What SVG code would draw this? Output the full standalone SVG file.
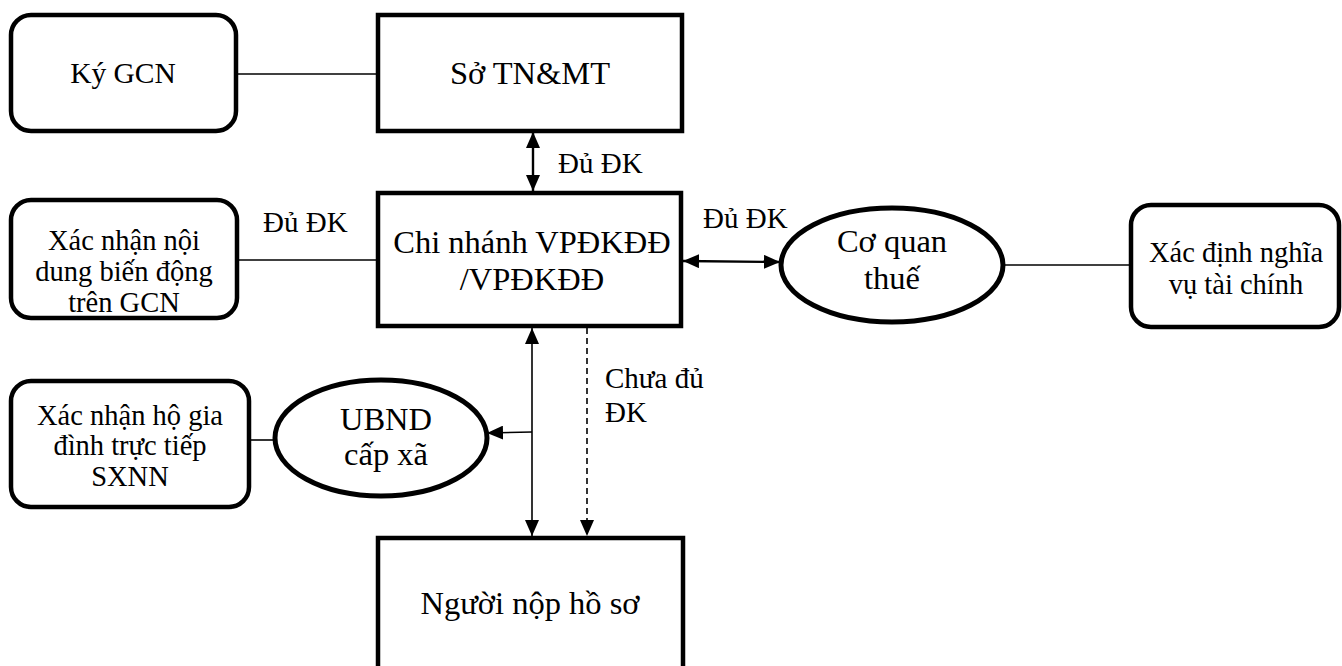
<svg xmlns="http://www.w3.org/2000/svg" width="1342" height="666" viewBox="0 0 1342 666">
  <style>
    .box { fill: #fff; stroke: #000; stroke-width: 4.5; }
    .ell { fill: #fff; stroke: #000; stroke-width: 5; }
    text { font-family: 'Liberation Serif', 'Times New Roman', serif; fill: #000; }
    .t { text-anchor: middle; }
    .big { font-size: 32.5px; }
    .mid { font-size: 29.5px; }
    .sm { font-size: 28.5px; }
    .lbl { font-size: 29px; }
    .ln { stroke: #000; stroke-width: 1.6; fill: none; }
    .ln2 { stroke: #000; stroke-width: 2.4; fill: none; }
    .dash { stroke: #000; stroke-width: 1.6; fill: none; stroke-dasharray: 6 4; }
  </style>
  <defs>
    <marker id="arr" markerUnits="userSpaceOnUse" viewBox="0 0 16 14" markerWidth="16" markerHeight="14" refX="16" refY="7" orient="auto-start-reverse">
      <path d="M0,0 L16,7 L0,14 z" fill="#000"/>
    </marker>
  </defs>
  <rect width="1342" height="666" fill="#fff"/>

  <!-- connectors -->
  <g id="connectors">
    <line class="ln" x1="236" y1="74" x2="377" y2="74"/>
    <line class="ln2" x1="533" y1="132" x2="533" y2="191" marker-start="url(#arr)" marker-end="url(#arr)"/>
    <line class="ln" x1="237" y1="260" x2="377" y2="260"/>
    <line class="ln2" x1="683" y1="261" x2="780" y2="262" marker-start="url(#arr)" marker-end="url(#arr)"/>
    <line class="ln" x1="1004" y1="265" x2="1131" y2="265"/>
    <line class="ln" x1="532" y1="328" x2="532" y2="536" marker-start="url(#arr)" marker-end="url(#arr)"/>
    <line class="ln" x1="532" y1="432" x2="487" y2="433" marker-end="url(#arr)"/>
    <line class="dash" x1="587" y1="328" x2="587" y2="536" marker-end="url(#arr)"/>
    <line class="ln" x1="249" y1="440" x2="276" y2="440"/>
    <text class="lbl" x="558" y="173">Đủ ĐK</text>
    <text class="lbl" x="263" y="232">Đủ ĐK</text>
    <text class="lbl" x="703" y="228">Đủ ĐK</text>
    <text class="lbl" x="605" y="388">Chưa đủ</text>
    <text class="lbl" x="605" y="422">ĐK</text>
  </g>

  <g id="ky-gcn">
    <rect class="box" x="11" y="15" width="225" height="116" rx="20"/>
    <text class="t mid" x="123" y="83">Ký GCN</text>
  </g>

  <g id="so-tnmt">
    <rect class="box" x="378" y="15" width="304" height="116"/>
    <text class="t big" x="530" y="84">Sở TN&amp;MT</text>
  </g>

  <g id="xac-nhan-noi-dung">
    <rect class="box" x="11" y="200" width="226" height="118" rx="20"/>
    <text class="t sm" x="124" y="250">Xác nhận nội</text>
    <text class="t sm" x="124" y="281">dung biến động</text>
    <text class="t sm" x="124" y="312">trên GCN</text>
  </g>

  <g id="chi-nhanh">
    <rect class="box" x="378" y="193" width="303" height="133"/>
    <text class="t big" x="532" y="253">Chi nhánh VPĐKĐĐ</text>
    <text class="t big" x="532" y="290">/VPĐKĐĐ</text>
  </g>

  <g id="co-quan-thue">
    <ellipse class="ell" cx="892" cy="265" rx="111" ry="57"/>
    <text class="t big" x="892" y="252">Cơ quan</text>
    <text class="t big" x="892" y="289">thuế</text>
  </g>

  <g id="xac-dinh-nghia-vu">
    <rect class="box" x="1131" y="205" width="208" height="122" rx="20"/>
    <text class="t sm" x="1236" y="262">Xác định nghĩa</text>
    <text class="t sm" x="1236" y="294">vụ tài chính</text>
  </g>

  <g id="xac-nhan-ho-gia-dinh">
    <rect class="box" x="11" y="381" width="238" height="126" rx="20"/>
    <text class="t sm" x="130" y="425">Xác nhận hộ gia</text>
    <text class="t sm" x="130" y="455">đình trực tiếp</text>
    <text class="t sm" x="130" y="486">SXNN</text>
  </g>

  <g id="ubnd-cap-xa">
    <ellipse class="ell" cx="381" cy="438" rx="106" ry="58"/>
    <text class="t big" x="386" y="430">UBND</text>
    <text class="t big" x="386" y="465">cấp xã</text>
  </g>

  <g id="nguoi-nop-ho-so">
    <rect class="box" x="378" y="538" width="305" height="150"/>
    <text class="t big" x="530" y="614">Người nộp hồ sơ</text>
  </g>
</svg>
